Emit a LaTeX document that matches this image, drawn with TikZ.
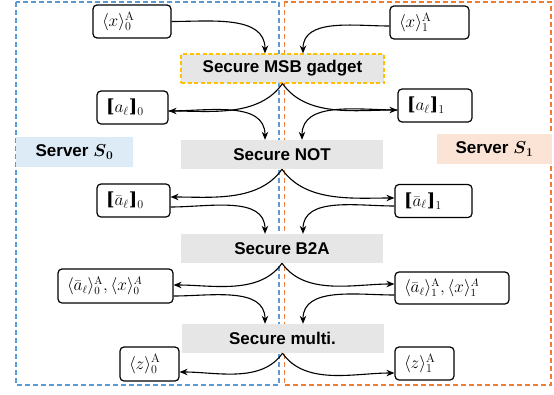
\documentclass[tikz,border=0pt]{standalone}
\usepackage[no-math]{fontspec}
\setmainfont{Liberation Sans}
\newfontfamily\brkfont{DejaVu Serif}
\usepackage{amsmath,amssymb}
\usetikzlibrary{arrows.meta}
\definecolor{srvblue}{HTML}{5B9BD5}
\definecolor{srvorange}{HTML}{ED7D31}
\definecolor{gadgetgold}{HTML}{FFC000}
\definecolor{opgray}{HTML}{E6E6E6}
\definecolor{lblblue}{HTML}{DDEBF7}
\definecolor{lblpeach}{HTML}{FBE3D5}
\newcommand{\mysz}[1]{\fontsize{#1}{#1}\selectfont}
\newcommand{\blb}{\mathopen{\text{\brkfont\bfseries [}}}
\newcommand{\brb}{\mathclose{\text{\brkfont\bfseries ]}}}
\begin{document}
\begin{tikzpicture}[x=1pt,y=-1pt,
  region/.style={dash pattern=on 5pt off 3pt, line width=1.6pt},
  share/.style={draw, rounded corners=4pt, line width=1.2pt, inner xsep=9pt, inner ysep=0pt, align=left, minimum height=#1},
  share/.default=33pt,
  op/.style={fill=opgray, minimum width=202pt, minimum height=29pt, inner sep=0pt, font=\mysz{17}\bfseries},
  srvlabel/.style={minimum height=30pt, inner sep=0pt, font=\mysz{17}\bfseries},
  conn/.style={-{Stealth[length=8pt,width=6.5pt]}, line width=1.1pt},
  toleft/.style={out=-125,in=0,looseness=0.9},
  toright/.style={out=-55,in=180,looseness=0.9}]
\useasboundingbox (0,0) rectangle (554,394);
% server regions
\draw[region, draw=srvblue] (16,2) rectangle (279,385);
\draw[region, draw=srvorange] (284.3,2) rectangle (551,385);
% server labels
\node[srvlabel, fill=lblblue, minimum width=117pt] (s0) at (74.5,152) {Server $\boldsymbol{S}_{\mathbf{0}}$};
\node[srvlabel, fill=lblpeach, minimum width=115pt] (s1) at (494.5,149) {Server $\boldsymbol{S}_{\mathbf{1}}$};
% operations
\node[op, draw=gadgetgold, dash pattern=on 4pt off 2.5pt, line width=1.1pt, minimum width=203pt] (msb) at (282.5,68.5) {Secure MSB gadget};
\node[op] (not) at (282,154.5) {Secure NOT};
\node[op] (b2a) at (282,248.5) {Secure B2A};
\node[op] (mul) at (282.5,338.5) {Secure multi.};
% shares
\node[share, text width=60pt] (x0) at (132,21.5) {\mysz{18}$\langle x\rangle_0^{\mathrm{A}}$};
\node[share, text width=61pt] (x1) at (429.5,22.5) {\mysz{18}$\langle x\rangle_1^{\mathrm{A}}$};
\node[share, text width=53pt] (a0) at (132.5,107.5) {\mysz{18}$\blb a_\ell\brb_0$};
\node[share, text width=56pt] (a1) at (435,105.5) {\mysz{18}$\blb a_\ell\brb_1$};
\node[share, text width=55pt] (ab0) at (133.5,200.5) {\mysz{18}$\blb\bar{a}_\ell\brb_0$};
\node[share, text width=59pt] (ab1) at (433.5,201) {\mysz{18}$\blb\bar{a}_\ell\brb_1$};
\node[share=34pt, text width=97pt] (c0) at (115.5,286) {\mysz{16}$\langle \bar{a}_\ell\rangle_0^{\mathrm{A}},\langle x\rangle_0^{A}$};
\node[share=32pt, text width=96pt] (c1) at (452,288) {\mysz{16}$\langle \bar{a}_\ell\rangle_1^{\mathrm{A}},\langle x\rangle_1^{A}$};
\node[share=34pt, text width=41pt] (z0) at (149.5,364) {\mysz{18}$\langle z\rangle_0^{\mathrm{A}}$};
\node[share, text width=41pt] (z1) at (424.5,363.5) {\mysz{18}$\langle z\rangle_1^{\mathrm{A}}$};
% connectors
\draw[conn] (x0.east) to[out=0,in=90] ([xshift=-17.5pt]msb.north);
\draw[conn] ([yshift=-3.5pt]x1.west) to[out=180,in=90] ([xshift=20.5pt]msb.north);
\draw[conn] (msb.south) to[toleft] ([yshift=-3.5pt]a0.east);
\draw[conn] (msb.south) to[toright] ([yshift=-4.5pt]a1.west);
\draw[conn] ([yshift=-3.5pt]a0.east) to[out=0,in=90] ([xshift=-17pt]not.north);
\draw[conn] ([yshift=-4.5pt]a1.west) to[out=180,in=90] ([xshift=20pt]not.north);
\draw[conn] (not.south) to[toleft] ([yshift=3.5pt]ab0.east);
\draw[conn] (not.south) to[toright] ([yshift=3pt]ab1.west);
\draw[conn] ([yshift=-6.5pt]ab0.east) to[out=0,in=90] ([xshift=-17pt]b2a.north);
\draw[conn] ([yshift=-5pt]ab1.west) to[out=180,in=90] ([xshift=21pt]b2a.north);
\draw[conn] (b2a.south) to[toleft] ([yshift=1pt]c0.east);
\draw[conn] (b2a.south) to[toright] ([yshift=4pt]c1.west);
\draw[conn] ([yshift=-10pt]c0.east) to[out=0,in=90] ([xshift=-17.5pt]mul.north);
\draw[conn] ([yshift=-7pt]c1.west) to[out=180,in=90] ([xshift=20.5pt]mul.north);
\draw[conn] (mul.south) to[toleft] ([yshift=-8pt]z0.east);
\draw[conn] (mul.south) to[toright] ([yshift=-9.5pt]z1.west);
\end{tikzpicture}
\end{document}
